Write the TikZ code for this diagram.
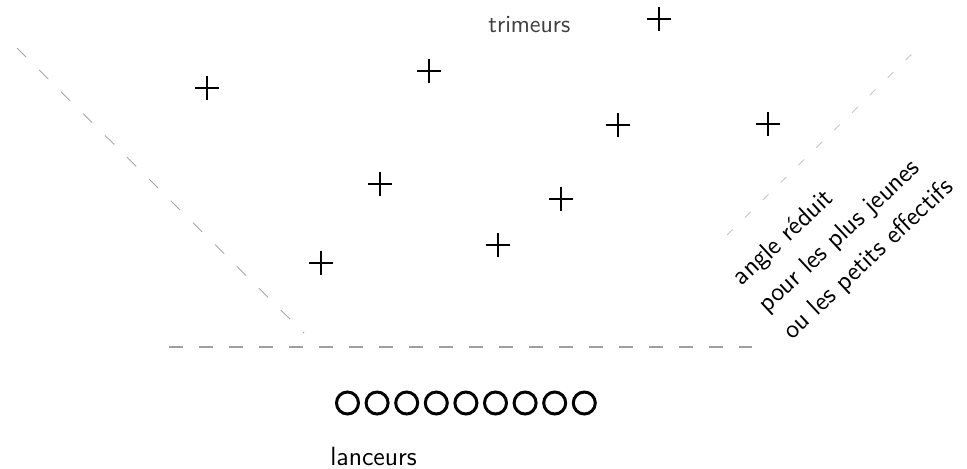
\documentclass[tikz,border=0pt]{standalone}
\usepackage{tikz}
\usetikzlibrary{positioning}
\tikzset{
  tcross/.style={inner sep=0pt, minimum size=0.48cm,
                 path picture={\draw[line width=1.1pt]
                   (path picture bounding box.north) -- (path picture bounding box.south)
                   (path picture bounding box.west) -- (path picture bounding box.east);}},
  lanceur/.style={circle, draw, line width=1.7pt, minimum size=0.44cm, inner sep=0pt},
  legende/.style={font=\sffamily\fontsize{15}{21}\selectfont, inner sep=0pt},
  limite/.style={draw=#1, line width=0.5pt},
}

\begin{document}
\begin{tikzpicture}[x=0.02cm, y=-0.02cm]
\useasboundingbox (0,0) rectangle (967,468);

% Field limits
\coordinate (g-haut) at (17,48);
\coordinate (g-bas) at (304,333);
\coordinate (d-bas) at (727,235);
\coordinate (d-haut) at (917,49);
\coordinate (ligne-w) at (169,347);
\coordinate (ligne-e) at (752,347);

\draw[limite=gray!70, dash pattern=on 0.26cm off 0.36cm] (g-haut) -- (g-bas);
\draw[limite=gray!45, dash pattern=on 0.16cm off 0.34cm] (d-bas) -- (d-haut);
\draw[limite=gray!75, line width=0.7pt, dash pattern=on 0.28cm off 0.32cm] (ligne-w) -- (ligne-e);

% Trimeurs
\node[tcross] (t1) at (207,88) {};
\node[tcross] (t2) at (429,71) {};
\node[tcross] (t3) at (659,19) {};
\node[tcross] (t4) at (380,184) {};
\node[tcross] (t5) at (321,263) {};
\node[tcross] (t6) at (618,125) {};
\node[tcross] (t7) at (768,124) {};
\node[tcross] (t8) at (561,199) {};
\node[tcross] (t9) at (498,245) {};

\node[legende, font=\sffamily\fontsize{14}{18}\selectfont, text=black!75, anchor=base west] (trimeurs) at (488,32) {trimeurs};

% Lanceurs
\foreach \i in {1,...,9}
  \node[lanceur] (l\i) at ({347.5+29.6*(\i-1)},403) {};

\node[legende, anchor=base west] (lanceurs) at (330,465) {lanceurs};

% Reduced angle note
\node[legende, rotate=43, anchor=north west, align=left] (angle) at (729,273)
      {angle réduit\\pour les plus jeunes\\ou les petits effectifs};

\end{tikzpicture}
\end{document}
